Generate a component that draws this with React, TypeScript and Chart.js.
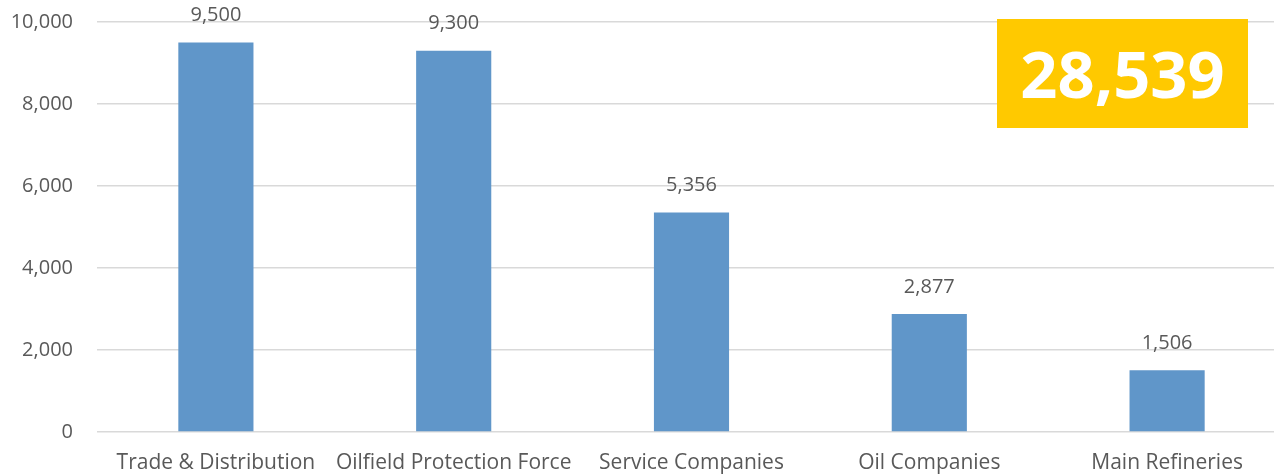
import React, { useEffect, useRef } from "react";
import { Chart, registerables } from "chart.js";

Chart.register(...registerables);

const categories = [
  "Trade & Distribution",
  "Oilfield Protection Force",
  "Service Companies",
  "Oil Companies",
  "Main Refineries",
];
const values = [9500, 9300, 5356, 2877, 1506];
const totalLabel = "28,539";
const yTicks = [0, 2000, 4000, 6000, 8000, 10000];

const FONT = "'Open Sans', 'Noto Sans', sans-serif";
const TEXT = "#595959";

const valueLabels = {
  id: "valueLabels",
  afterDatasetsDraw(chart: any) {
    const ctx = chart.ctx;
    const meta = chart.getDatasetMeta(0);
    ctx.save();
    ctx.font = `20px ${FONT}`;
    ctx.fillStyle = TEXT;
    ctx.textAlign = "center";
    ctx.textBaseline = "middle";
    meta.data.forEach((bar: any, i: number) => {
      ctx.fillText(values[i].toLocaleString("en-US"), bar.x, bar.y - 27);
    });
    ctx.restore();
  },
};

export default function App() {
  const ref = useRef<HTMLCanvasElement | null>(null);
  useEffect(() => {
    if (!ref.current) return;
    const chart = new Chart(ref.current, {
      type: "bar",
      data: {
        labels: categories,
        datasets: [
          {
            data: values,
            backgroundColor: "#6096C9",
            borderWidth: 0,
            categoryPercentage: 1,
            barPercentage: 0.316,
          },
        ],
      },
      options: {
        animation: false,
        responsive: false,
        devicePixelRatio: 1,
        layout: { padding: { top: 22, left: 0, right: 0, bottom: 0 } },
        plugins: { legend: { display: false }, tooltip: { enabled: false } },
        scales: {
          x: {
            grid: { display: false, drawTicks: false },
            border: { display: false },
            afterFit: (axis: any) => {
              axis.height = 42;
            },
            ticks: {
              color: TEXT,
              font: { family: FONT, size: 21 },
              padding: 18,
              maxRotation: 0,
              minRotation: 0,
              autoSkip: false,
            },
          },
          y: {
            min: 0,
            max: 10000,
            afterBuildTicks: (axis: any) => {
              axis.ticks = yTicks.map((v) => ({ value: v }));
            },
            grid: { color: "#D9D9D9", lineWidth: 1.5, drawTicks: false },
            border: { display: false },
            afterFit: (axis: any) => {
              axis.width = 97;
              axis.paddingTop = 0;
              axis.paddingBottom = 0;
            },
            ticks: {
              color: TEXT,
              font: { family: FONT, size: 20 },
              padding: 24,
              callback: (v: any) => Number(v).toLocaleString("en-US"),
            },
          },
        },
      },
      plugins: [valueLabels],
    });
    return () => chart.destroy();
  }, []);

  return (
    <div style={{ position: "fixed", left: 0, top: 0, width: 1274, height: 474, overflow: "hidden", background: "#fff" }}>
      <canvas ref={ref} width={1286} height={474} style={{ display: "block", width: 1286, height: 474 }} />
      <div
        style={{
          position: "absolute",
          left: 997,
          top: 19,
          width: 251,
          height: 109,
          background: "#FFC900",
          color: "#fff",
          fontFamily: FONT,
          fontWeight: 700,
          fontSize: 65,
          lineHeight: "109px",
          textAlign: "center",
        }}
      >
        {totalLabel}
      </div>
    </div>
  );
}
